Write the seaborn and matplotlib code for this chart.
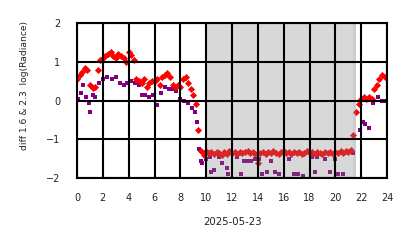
import numpy as np
import pandas as pd
import matplotlib
matplotlib.use("Agg")
import matplotlib.pyplot as plt
import seaborn as sns

# --- data (hours since 00:00 UTC, 2025-05-23) ---
red_hours = [
    0.0, 0.2, 0.4, 0.6, 0.8, 1.0, 1.2, 1.4, 1.6, 1.8,
    2.0, 2.2, 2.4, 2.6, 2.8, 3.0, 3.2, 3.4, 3.6, 3.8,
    4.0, 4.2, 4.4, 4.6, 4.8, 5.0, 5.2, 5.4, 5.6, 5.8,
    6.0, 6.2, 6.4, 6.6, 6.8, 7.0, 7.2, 7.4, 7.6, 7.8,
    8.0, 8.2, 8.4, 8.6, 8.8, 9.0, 9.2, 9.4, 9.6, 9.8,
    10.0, 10.2, 10.4, 10.6, 10.8, 11.0, 11.2, 11.4, 11.6, 11.8,
    12.0, 12.2, 12.4, 12.6, 12.8, 13.0, 13.2, 13.4, 13.6, 13.8,
    14.0, 14.2, 14.4, 14.6, 14.8, 15.0, 15.2, 15.4, 15.6, 15.8,
    16.0, 16.2, 16.4, 16.6, 16.8, 17.0, 17.2, 17.4, 17.6, 17.8,
    18.0, 18.2, 18.4, 18.6, 18.8, 19.0, 19.2, 19.4, 19.6, 19.8,
    20.0, 20.2, 20.4, 20.6, 20.8, 21.0, 21.2, 21.4, 21.6, 21.8,
    22.0, 22.2, 22.4, 22.6, 22.8, 23.0, 23.2, 23.4, 23.6, 23.8,
]
red_values = [
    0.55, 0.65, 0.75, 0.85, 0.78, 0.40, 0.32, 0.36, 0.80, 1.05,
    1.10, 1.15, 1.20, 1.25, 1.15, 1.10, 1.20, 1.15, 1.10, 1.00,
    1.25, 1.18, 1.05, 0.55, 0.50, 0.45, 0.55, 0.35, 0.45, 0.50,
    0.50, 0.55, 0.40, 0.60, 0.65, 0.70, 0.60, 0.40, 0.35, 0.40,
    0.35, 0.55, 0.60, 0.45, 0.30, 0.15, -0.10, -0.75, -1.30, -1.40,
    -1.30, -1.36, -1.33, -1.38, -1.32, -1.35, -1.40, -1.33, -1.37, -1.31,
    -1.36, -1.34, -1.38, -1.32, -1.35, -1.33, -1.30, -1.36, -1.34, -1.37,
    -1.60, -1.35, -1.32, -1.38, -1.34, -1.36, -1.31, -1.35, -1.39, -1.33,
    -1.30, -1.36, -1.34, -1.38, -1.32, -1.36, -1.33, -1.37, -1.35, -1.31,
    -1.36, -1.34, -1.39, -1.33, -1.35, -1.37, -1.32, -1.36, -1.34, -1.38,
    -1.33, -1.36, -1.31, -1.35, -1.30, -1.33, -1.28, -0.90, -0.30, -0.10,
    0.05, 0.10, 0.05, 0.10, 0.05, 0.30, 0.40, 0.55, 0.65, 0.60,
]

purple_hours = [
    0.1, 0.3, 0.5, 0.7, 0.9, 1.0, 1.2, 1.4, 1.7, 2.0,
    2.3, 2.7, 3.0, 3.3, 3.6, 3.9, 4.2, 4.5, 4.8, 5.0,
    5.3, 5.6, 5.9, 6.2, 6.5, 6.8, 7.1, 7.4, 7.7, 8.0,
    8.3, 8.6, 8.9, 9.1, 9.3, 9.45, 9.6, 9.7, 10.0, 10.3,
    10.4, 10.6, 11.0, 11.2, 11.6, 11.7, 12.4, 12.7, 12.9, 13.2,
    13.5, 13.8, 14.1, 14.3, 14.7, 15.0, 15.3, 15.6, 16.4, 16.8,
    17.1, 17.5, 18.2, 18.4, 18.6, 19.2, 19.6, 20.0, 20.2, 20.6,
    21.4, 21.9, 22.1, 22.3, 22.6, 22.9, 23.3, 23.6, 23.8,
]
purple_values = [
    0.05, 0.20, 0.40, 0.10, -0.05, -0.30, 0.15, 0.10, 0.45, 0.55,
    0.60, 0.55, 0.60, 0.45, 0.40, 0.45, 0.50, 0.45, 0.40, 0.15,
    0.15, 0.10, 0.15, -0.12, 0.20, 0.35, 0.30, 0.30, 0.25, 0.05,
    0.00, -0.05, -0.20, -0.30, -0.55, -1.25, -1.55, -1.60, -1.50, -1.45,
    -1.85, -1.80, -1.45, -1.60, -1.75, -1.90, -1.45, -1.90, -1.55, -1.55,
    -1.55, -1.50, -1.50, -1.90, -1.85, -1.55, -1.85, -1.90, -1.50, -1.90,
    -1.90, -1.95, -1.45, -1.85, -1.45, -1.50, -1.85, -1.50, -1.90, -1.90,
    -1.35, -0.75, -0.55, -0.60, -0.70, -0.07, 0.10, 0.00, 0.00,
]

night_start, night_end = 9.95, 21.6
night2_start, night2_end = 21.35, 21.6

x_ticks = [0, 2, 4, 6, 8, 10, 12, 14, 16, 18, 20, 22, 24]
y_ticks = [-2, -1, 0, 1, 2]

red_df = pd.DataFrame({"hour": red_hours, "value": red_values})
purple_df = pd.DataFrame({"hour": purple_hours, "value": purple_values})

sns.set_style("white")
plt.rcParams['font.family'] = ['DejaVu Sans']

fig = plt.figure(figsize=(4.14, 2.48), dpi=100)
ax = fig.add_axes([0.186, 0.282, 0.749, 0.625])

sns.scatterplot(data=purple_df, x="hour", y="value", ax=ax, marker="s",
                color="#800080", s=9, linewidth=0, zorder=2)
sns.scatterplot(data=red_df, x="hour", y="value", ax=ax, marker="D",
                color="#ff0000", s=13, linewidth=0, zorder=2.1)

ax.axvspan(night_start, night_end, color="gray", alpha=0.3, lw=0, zorder=2.3)
ax.axvspan(night2_start, night2_end, color="gray", alpha=0.12, lw=0, zorder=2.3)

ax.set_xlim(0, 24)
ax.set_ylim(-2, 2)
ax.set_xticks(x_ticks)
ax.set_yticks(y_ticks)
ax.set_axisbelow(False)
ax.grid(True, color="black", linewidth=1.5)
for sp in ax.spines.values():
    sp.set_visible(True)
    sp.set_color("black")
    sp.set_linewidth(1.5)
    sp.set_zorder(3)
ax.tick_params(axis="both", direction="out", length=6, width=1.5,
               color="black", labelsize=7, labelcolor="#222222")
ax.tick_params(axis="x", pad=5)
ax.tick_params(axis="y", pad=6)
ax.set_xlabel("2025-05-23", fontsize=7.3, color="#222222", labelpad=10)
ax.set_ylabel("diff 1.6 & 2.3  log(Radiance)", fontsize=6.6, color="#222222")
ax.yaxis.set_label_coords(-0.155, 0.594)

fig.savefig("out.png", dpi=100)
